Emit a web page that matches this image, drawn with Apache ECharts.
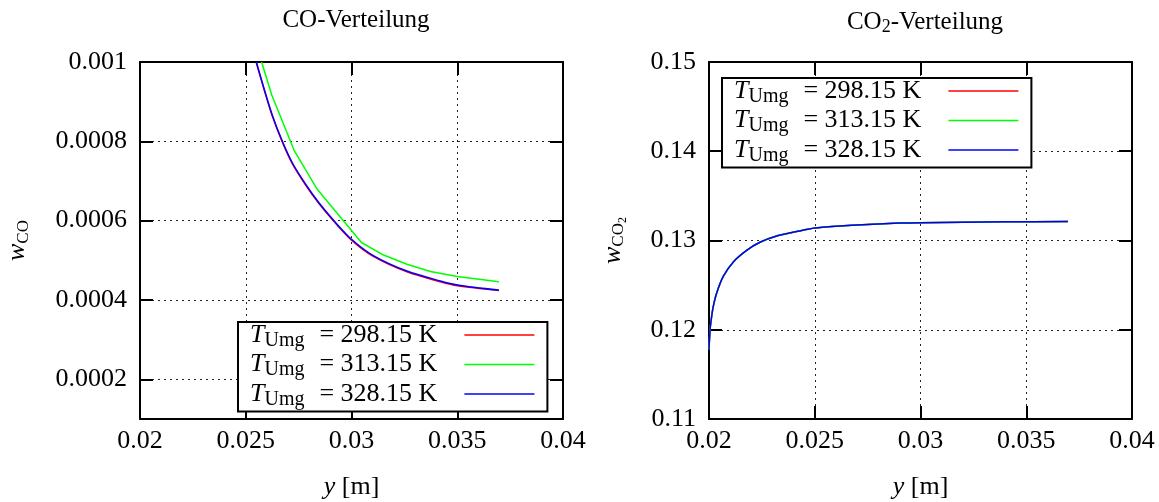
<!DOCTYPE html>
<html><head><meta charset="utf-8">
<script src="https://cdn.jsdelivr.net/npm/echarts@6/dist/echarts.min.js"></script>
<style>html,body{margin:0;padding:0;background:#fff}#c{width:1159px;height:502px}</style>
</head><body><div id="c"></div>
<script>
// ---- data ----
const legendTemps = ['298.15', '313.15', '328.15'];
const xTickLabels = [0.02, 0.025, 0.03, 0.035, 0.04];
const coYTickLabels = [0.0002, 0.0004, 0.0006, 0.0008, 0.001];
const co2YTickLabels = [0.11, 0.12, 0.13, 0.14, 0.15];

// CO distribution
const coX_298 = [0.02550, 0.02587, 0.02626, 0.02673, 0.02720, 0.02783, 0.02846, 0.02912, 0.03000, 0.03103, 0.03262, 0.03420, 0.03500, 0.03697];
const coY_298 = [0.000998, 0.000930, 0.000863, 0.000798, 0.000744, 0.000690, 0.000643, 0.000601, 0.000551, 0.000510, 0.000471, 0.000446, 0.000436, 0.000424];
const coX_313 = [0.02575, 0.02623, 0.02728, 0.02838, 0.03047, 0.03149, 0.03262, 0.03373, 0.03500, 0.03697];
const coY_313 = [0.001000, 0.000917, 0.000778, 0.000679, 0.000545, 0.000514, 0.000490, 0.000472, 0.000459, 0.000446];
const coX_328 = [0.02550, 0.02587, 0.02626, 0.02673, 0.02720, 0.02783, 0.02846, 0.02912, 0.03000, 0.03103, 0.03262, 0.03420, 0.03500, 0.03697];
const coY_328 = [0.001000, 0.000932, 0.000865, 0.000800, 0.000746, 0.000692, 0.000645, 0.000603, 0.000553, 0.000512, 0.000473, 0.000448, 0.000438, 0.000425];

// CO2 distribution (all three temperatures practically coincide)
const co2X = [0.02000, 0.02005, 0.02012, 0.02020, 0.02036, 0.02068, 0.02115, 0.02178, 0.02241, 0.02320, 0.02415, 0.02500, 0.02600, 0.02750, 0.02900, 0.03000, 0.03200, 0.03400, 0.03697];
const co2Y_298 = [0.1178, 0.1200, 0.1214, 0.1226, 0.1241, 0.1260, 0.1276, 0.1289, 0.1298, 0.1305, 0.1310, 0.1314, 0.1316, 0.1318, 0.13195, 0.1320, 0.13205, 0.1321, 0.13212];
const co2Y_313 = [0.1178, 0.1200, 0.1214, 0.1226, 0.1241, 0.1260, 0.1276, 0.1289, 0.1298, 0.1305, 0.1310, 0.1314, 0.1316, 0.1318, 0.13195, 0.1320, 0.13205, 0.1321, 0.13212];
const co2Y_328 = [0.1178, 0.1200, 0.1214, 0.1226, 0.1241, 0.1260, 0.1276, 0.1289, 0.1298, 0.1305, 0.1310, 0.1314, 0.1316, 0.1318, 0.13195, 0.1320, 0.13205, 0.1321, 0.13212];

const colors = ['#ff0000', '#00ff00', '#0000ff'];
// ---- build ----
const FONT = 'Liberation Serif';
const zip = (xs, ys) => xs.map((x, i) => [x, ys[i]]);
const names = legendTemps.map(t => 'T_Umg = ' + t + ' K');
const fmt = v => String(Number(v.toPrecision(6)));

const chart = echarts.init(document.getElementById('c'), null, {renderer: 'canvas'});

const tickStyle = {show: true, inside: true, length: 13, lineStyle: {color: '#000', width: 2}};
const lineStyle = {show: true, onZero: false, lineStyle: {color: '#000', width: 2}};
const splitStyle = {show: true, lineStyle: {color: '#222', width: 1, type: [2, 4]}};
const labelStyle = {fontFamily: FONT, fontSize: 26, color: '#000'};

function xAxes(gi) {
  return [{
    gridIndex: gi, type: 'value', position: 'bottom', min: 0.02, max: 0.04, interval: 0.005,
    axisLine: lineStyle, axisTick: tickStyle, splitLine: splitStyle,
    axisLabel: Object.assign({margin: 9, formatter: fmt}, labelStyle),
    name: '{i|y} [m]', nameLocation: 'middle', nameGap: 55,
    nameTextStyle: {fontFamily: FONT, fontSize: 26, color: '#000', rich: {i: {fontFamily: FONT, fontSize: 26, fontStyle: 'italic'}}}
  }, {
    gridIndex: gi, type: 'value', position: 'top', min: 0.02, max: 0.04, interval: 0.005,
    axisLine: lineStyle, axisTick: tickStyle, splitLine: {show: false}, axisLabel: {show: false}
  }];
}

const richName = {
  w: {fontFamily: FONT, fontSize: 26, fontStyle: 'italic', color: '#000'},
  s: {fontFamily: FONT, fontSize: 17, color: '#000', padding: [12, 0, 0, 0]},
  s2: {fontFamily: FONT, fontSize: 12, color: '#000', padding: [20, 0, 0, 0]}
};

function legendRich() {
  return {
    t: {fontFamily: FONT, fontSize: 26, fontStyle: 'italic', color: '#000', lineHeight: 26},
    s: {fontFamily: FONT, fontSize: 20, color: '#000', padding: [11, 0, 0, 0]},
    n: {fontFamily: FONT, fontSize: 26, color: '#000', lineHeight: 26, padding: [0, 22, 0, 15]}
  };
}
const legendFmt = n => '{t|T}{s|Umg}{n|= ' + n.split(' = ')[1] + '}';

const option = {
  backgroundColor: '#fff',
  animation: false,
  title: [
    {text: 'CO-Verteilung', left: 351, top: 3, textAlign: 'center',
     textStyle: {fontFamily: FONT, fontSize: 25, fontWeight: 'normal', color: '#000'}},
    {text: 'CO{s|2}-Verteilung', left: 920, top: 3, textAlign: 'center',
     textStyle: {fontFamily: FONT, fontSize: 25, fontWeight: 'normal', color: '#000',
       rich: {s: {fontFamily: FONT, fontSize: 18, color: '#000', padding: [10, 0, 0, 0]}}}}
  ],
  grid: [
    {left: 140, top: 62, width: 423, height: 357, outerBoundsMode: 'none', containLabel: false},
    {left: 709, top: 62, width: 423, height: 357, outerBoundsMode: 'none', containLabel: false}
  ],
  xAxis: [...xAxes(0), ...xAxes(1)],
  yAxis: [
    {gridIndex: 0, type: 'value', position: 'left', min: 0.0001, max: 0.001,
     axisLine: lineStyle, axisTick: Object.assign({customValues: coYTickLabels}, tickStyle),
     splitLine: splitStyle,
     axisLabel: Object.assign({margin: 13, formatter: fmt, customValues: coYTickLabels}, labelStyle),
     name: '{w|w}{s|CO}', nameLocation: 'middle', nameGap: 108,
     nameTextStyle: {rich: richName}},
    {gridIndex: 0, type: 'value', position: 'right', min: 0.0001, max: 0.001,
     axisLine: lineStyle, axisTick: Object.assign({customValues: coYTickLabels}, tickStyle),
     splitLine: {show: false}, axisLabel: {show: false}},
    {gridIndex: 1, type: 'value', position: 'left', min: 0.11, max: 0.15, interval: 0.01,
     axisLine: lineStyle, axisTick: tickStyle, splitLine: splitStyle,
     axisLabel: Object.assign({margin: 13, formatter: fmt}, labelStyle),
     name: '{w|w}{s|CO}{s2|2}', nameLocation: 'middle', nameGap: 80,
     nameTextStyle: {rich: richName}},
    {gridIndex: 1, type: 'value', position: 'right', min: 0.11, max: 0.15, interval: 0.01,
     axisLine: lineStyle, axisTick: tickStyle, splitLine: {show: false}, axisLabel: {show: false}}
  ],
  legend: [
    {left: 238, top: 322, orient: 'vertical', align: 'right', data: names,
     icon: 'rect', itemWidth: 70, itemHeight: 1.5, itemGap: 1,
     padding: [0, 13, 2, 12], borderColor: '#000', borderWidth: 2, backgroundColor: '#fff',
     formatter: legendFmt, textStyle: {rich: legendRich()}},
    {left: 722, top: 78, orient: 'vertical', align: 'right', data: names,
     icon: 'rect', itemWidth: 70, itemHeight: 1.5, itemGap: 1,
     padding: [0, 13, 2, 12], borderColor: '#000', borderWidth: 2, backgroundColor: '#fff',
     formatter: legendFmt, textStyle: {rich: legendRich()}}
  ],
  series: [
    {name: names[0], type: 'line', xAxisIndex: 0, yAxisIndex: 0, data: zip(coX_298, coY_298), smooth: 0.3},
    {name: names[1], type: 'line', xAxisIndex: 0, yAxisIndex: 0, data: zip(coX_313, coY_313)},
    {name: names[2], type: 'line', xAxisIndex: 0, yAxisIndex: 0, data: zip(coX_328, coY_328), smooth: 0.3},
    {name: names[0], type: 'line', xAxisIndex: 2, yAxisIndex: 2, data: zip(co2X, co2Y_298), smooth: 0.25},
    {name: names[1], type: 'line', xAxisIndex: 2, yAxisIndex: 2, data: zip(co2X, co2Y_313), smooth: 0.25},
    {name: names[2], type: 'line', xAxisIndex: 2, yAxisIndex: 2, data: zip(co2X, co2Y_328), smooth: 0.25}
  ].map((s, i) => Object.assign({
    symbol: 'none', showSymbol: false, clip: true, z: 3 + (i % 3),
    color: colors[i % 3], lineStyle: {width: 1.5, color: colors[i % 3]}
  }, s))
};
chart.setOption(option);
</script>
</body></html>
